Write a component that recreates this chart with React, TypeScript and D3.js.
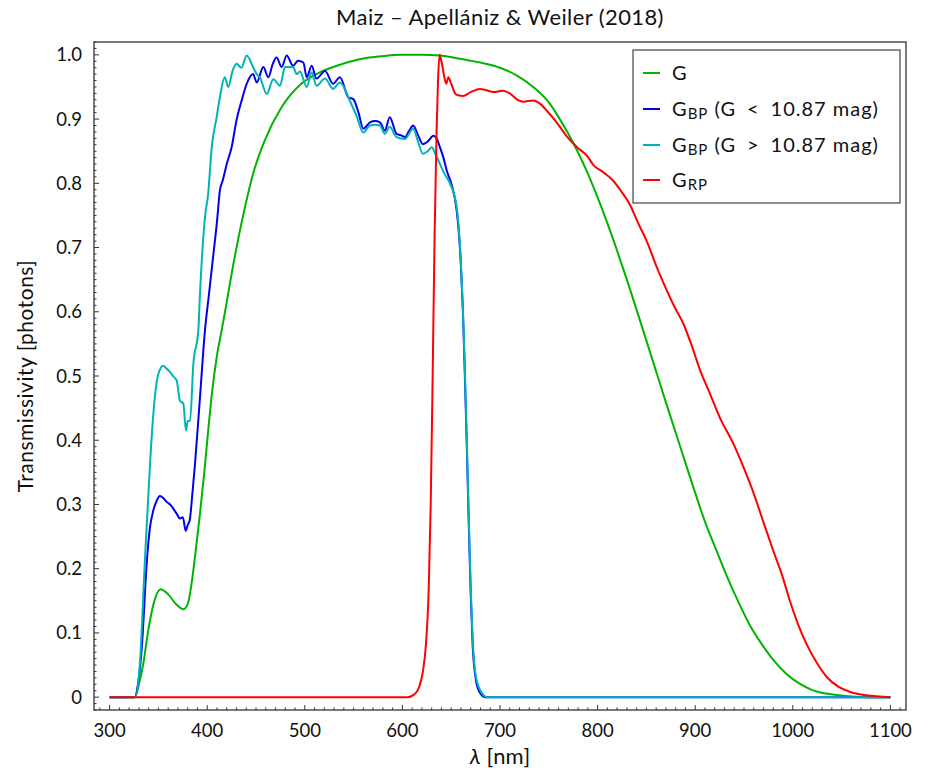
import React from "react";
import * as d3 from "d3";

// ---- data ----
const gWave = [300, 326, 330, 334.5, 339.6, 345, 352.3, 360, 368, 375.5, 380, 384, 388, 392.6, 397, 401, 405, 409.7, 414.8, 420, 425, 432, 438.7, 447, 459, 476, 495, 512, 529, 545, 563, 580, 597.5, 620, 638.5, 652, 665.8, 680, 700, 717, 734, 751, 760, 770, 780, 790, 800, 810, 820, 830, 840, 850, 860, 870, 880, 891, 900, 912, 920, 932, 944, 956, 968, 980, 993, 1007, 1020, 1041, 1060, 1076, 1100];
const gTrans = [0, 0, 0.02, 0.052, 0.104, 0.145, 0.168, 0.16, 0.145, 0.137, 0.145, 0.177, 0.225, 0.286, 0.35, 0.415, 0.475, 0.529, 0.571, 0.615, 0.659, 0.715, 0.763, 0.815, 0.867, 0.918, 0.953, 0.97, 0.981, 0.989, 0.995, 0.998, 1.0, 1.0, 0.999, 0.996, 0.992, 0.988, 0.98, 0.968, 0.95, 0.924, 0.903, 0.877, 0.848, 0.815, 0.778, 0.738, 0.695, 0.65, 0.603, 0.555, 0.507, 0.459, 0.412, 0.36, 0.318, 0.265, 0.235, 0.19, 0.149, 0.112, 0.083, 0.058, 0.037, 0.021, 0.011, 0.004, 0.001, 0, 0];

const bpBrightWave = [300, 326, 329, 333, 338, 341, 344.8, 348, 351.6, 355, 358.5, 362, 365, 369, 372, 375, 378, 380, 382, 385, 387.5, 392.6, 397.7, 402, 406, 410, 413, 416, 420, 425, 430, 435.3, 440.5, 447, 450.7, 457.5, 462.6, 467, 471, 476.3, 481.4, 488, 493, 498.5, 502, 507, 512, 520.7, 529, 536, 544.6, 549.7, 555, 560, 566.8, 572, 577, 582, 587, 594, 598, 602.6, 607, 611, 616, 621, 626, 631.7, 635, 638.5, 642, 645.4, 650, 655.6, 658, 660, 662, 664, 666, 668, 670, 672, 675, 679, 685, 1100];
const bpBrightTrans = [0, 0, 0.02, 0.078, 0.208, 0.26, 0.291, 0.305, 0.313, 0.31, 0.304, 0.3, 0.294, 0.285, 0.278, 0.28, 0.259, 0.268, 0.275, 0.32, 0.363, 0.467, 0.571, 0.63, 0.685, 0.74, 0.789, 0.805, 0.83, 0.856, 0.898, 0.929, 0.955, 0.97, 0.957, 0.981, 0.965, 0.985, 0.996, 0.981, 0.999, 0.983, 0.991, 0.988, 0.965, 0.983, 0.963, 0.975, 0.955, 0.965, 0.934, 0.931, 0.91, 0.885, 0.895, 0.897, 0.895, 0.882, 0.903, 0.877, 0.875, 0.872, 0.882, 0.89, 0.875, 0.861, 0.865, 0.874, 0.87, 0.856, 0.84, 0.82, 0.8, 0.758, 0.72, 0.67, 0.6, 0.5, 0.39, 0.27, 0.16, 0.08, 0.03, 0.008, 0, 0];

const bpFaintWave = [300, 326, 331, 336, 341.4, 344.8, 349.9, 355, 358, 361.9, 365, 368.7, 372, 375.5, 378.3, 380, 382.4, 385.8, 390.9, 392.6, 397.7, 401, 404.6, 409.7, 413, 418, 421.6, 426, 430, 435, 440.5, 447, 450.7, 454, 461, 467.7, 474.6, 479.7, 488, 491.7, 495, 502, 507, 512, 520.7, 529, 536, 546, 553, 560, 566.8, 572, 577, 582, 587, 594, 602.6, 611, 616, 621, 626, 630, 634, 638.5, 643, 648.7, 655.6, 658, 660, 662, 664, 666, 668, 670, 672, 675, 680, 687, 1100];
const bpFaintTrans = [0, 0, 0.052, 0.208, 0.363, 0.441, 0.503, 0.516, 0.512, 0.506, 0.5, 0.493, 0.462, 0.457, 0.415, 0.43, 0.43, 0.519, 0.571, 0.628, 0.747, 0.784, 0.856, 0.903, 0.934, 0.965, 0.95, 0.975, 0.986, 0.98, 0.999, 0.981, 0.97, 0.965, 0.939, 0.962, 0.952, 0.981, 0.981, 0.97, 0.974, 0.95, 0.973, 0.952, 0.963, 0.947, 0.957, 0.929, 0.905, 0.879, 0.89, 0.891, 0.89, 0.877, 0.888, 0.872, 0.869, 0.885, 0.865, 0.846, 0.85, 0.856, 0.845, 0.83, 0.815, 0.8, 0.763, 0.725, 0.675, 0.605, 0.51, 0.4, 0.28, 0.17, 0.09, 0.035, 0.01, 0, 0];

const rpWave = [300, 605, 612, 617, 621, 624, 627, 629, 631, 633, 635, 636.5, 638, 640, 643, 645, 647, 650, 654, 657, 662, 670, 679.5, 686, 693, 703, 710, 718, 724, 734, 741, 748, 758, 768, 779, 789, 796, 806, 816, 824, 833, 841, 850, 860, 871, 879, 888, 897, 905, 915, 925, 939, 950, 960, 970, 980, 989, 997, 1005, 1014, 1024, 1035, 1047, 1059, 1075, 1100];
const rpTrans = [0, 0, 0.004, 0.015, 0.04, 0.08, 0.17, 0.3, 0.5, 0.72, 0.88, 0.96, 1.0, 0.99, 0.965, 0.955, 0.965, 0.955, 0.94, 0.937, 0.936, 0.942, 0.947, 0.945, 0.942, 0.944, 0.94, 0.93, 0.927, 0.929, 0.924, 0.913, 0.895, 0.874, 0.856, 0.843, 0.828, 0.817, 0.804, 0.788, 0.767, 0.74, 0.711, 0.672, 0.633, 0.607, 0.581, 0.545, 0.509, 0.473, 0.436, 0.395, 0.356, 0.317, 0.272, 0.228, 0.19, 0.15, 0.115, 0.083, 0.055, 0.031, 0.016, 0.008, 0.003, 0];

const xTicks = [300, 400, 500, 600, 700, 800, 900, 1000, 1100];
const yTicks = [0, 0.1, 0.2, 0.3, 0.4, 0.5, 0.6, 0.7, 0.8, 0.9, 1.0];
const yTickLabels = ["0", "0.1", "0.2", "0.3", "0.4", "0.5", "0.6", "0.7", "0.8", "0.9", "1.0"];

const seriesNames = ["G", "BP<", "BP>", "RP"];
const seriesColors = ["#00b400", "#0000f0", "#00b4b4", "#ff0000"];

const FONT = "Lato, 'Open Sans', sans-serif";

export default function App() {
  const left = 94, right = 906, top = 42, bottom = 710;
  const x = d3.scaleLinear().domain([284, 1116]).range([left, right]);
  const y = d3.scaleLinear().domain([-0.02, 1.02]).range([bottom, top]);

  const mk = (w: number[], t: number[]) =>
    d3.line<number>().x((_, i) => x(w[i])).y((_, i) => y(t[i])).curve(d3.curveMonotoneX)(t) || "";

  const paths = [
    mk(gWave, gTrans),
    mk(bpBrightWave, bpBrightTrans),
    mk(bpFaintWave, bpFaintTrans),
    mk(rpWave, rpTrans),
  ];

  const xMinor = d3.range(290, 1111, 10).filter((v) => v % 100 !== 0);
  const yMinor = d3.range(-2, 103, 1).map((v) => v / 100).filter((v) => Math.round(v * 100) % 10 !== 0);

  const legendY = [73, 109, 145, 180];
  const axisColor = "#333";
  const sp = "\u2002";

  return (
    <svg width={928} height={774} style={{ position: "absolute", left: 0, top: 0, display: "block" }} fontFamily={FONT}>
      <rect x={0} y={0} width={928} height={774} fill="#fff" />
      <defs>
        <clipPath id="plotclip">
          <rect x={left} y={top} width={right - left} height={bottom - top} />
        </clipPath>
      </defs>
      {/* title */}
      <text x={(left + right) / 2} y={25} textAnchor="middle" fontSize={22} letterSpacing={0.4} fill="#111">
        Maiz – Apellániz &amp; Weiler (2018)
      </text>
      {/* curves */}
      <g clipPath="url(#plotclip)" fill="none" strokeWidth={2} strokeLinejoin="round">
        {paths.map((d, i) => (
          <path key={i} d={d} stroke={seriesColors[i]} />
        ))}
      </g>
      {/* frame */}
      <rect x={left} y={top} width={right - left} height={bottom - top} fill="none" stroke={axisColor} strokeWidth={1.3} />
      {/* x ticks */}
      {xTicks.map((t) => (
        <g key={"xt" + t}>
          <line x1={x(t)} x2={x(t)} y1={bottom} y2={bottom - 5} stroke={axisColor} />
          <text x={x(t)} y={737} textAnchor="middle" fontSize={18.5} fill="#111">{t}</text>
        </g>
      ))}
      {xMinor.map((t) => (
        <line key={"xm" + t} x1={x(t)} x2={x(t)} y1={bottom} y2={bottom - 2.5} stroke={axisColor} />
      ))}
      {/* y ticks */}
      {yTicks.map((t, i) => (
        <g key={"yt" + t}>
          <line x1={left} x2={left + 5} y1={y(t)} y2={y(t)} stroke={axisColor} />
          <text x={82} y={y(t) + 6.5} textAnchor="end" fontSize={18.5} fill="#111">{yTickLabels[i]}</text>
        </g>
      ))}
      {yMinor.map((t) => (
        <line key={"ym" + t} x1={left} x2={left + 2.5} y1={y(t)} y2={y(t)} stroke={axisColor} />
      ))}
      {/* axis labels */}
      <text x={500} y={764} textAnchor="middle" fontSize={22} fill="#111">
        <tspan fontStyle="italic">λ</tspan> [nm]
      </text>
      <text transform={`translate(33,${(top + bottom) / 2}) rotate(-90)`} textAnchor="middle" fontSize={21} letterSpacing={0.5} fill="#111">
        Transmissivity [photons]
      </text>
      {/* legend */}
      <rect x={633} y={50} width={267} height={153} fill="#fff" stroke="#444" strokeWidth={1.2} />
      {seriesNames.map((n, i) => (
        <g key={"lg" + i}>
          <line x1={643} x2={660} y1={legendY[i]} y2={legendY[i]} stroke={seriesColors[i]} strokeWidth={2} />
          <text x={672} y={legendY[i] + 7} fontSize={20} letterSpacing={1} fill="#111">
            G
            {i === 1 && (
              <>
                <tspan fontSize={15} dy={3}>BP</tspan>
                <tspan dy={-3}>{` (G${sp}<${sp}10.87 mag)`}</tspan>
              </>
            )}
            {i === 2 && (
              <>
                <tspan fontSize={15} dy={3}>BP</tspan>
                <tspan dy={-3}>{` (G${sp}>${sp}10.87 mag)`}</tspan>
              </>
            )}
            {i === 3 && <tspan fontSize={15} dy={3}>RP</tspan>}
          </text>
        </g>
      ))}
    </svg>
  );
}
